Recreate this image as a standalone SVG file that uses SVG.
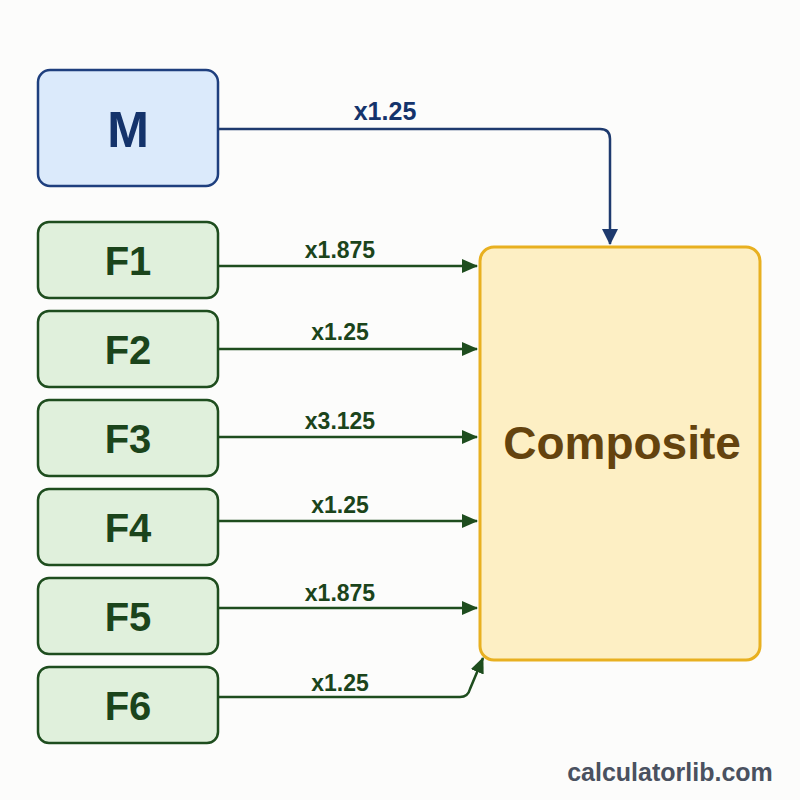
<svg xmlns="http://www.w3.org/2000/svg" width="800" height="800" viewBox="0 0 800 800">
<defs>
<style>
.f{fill:#e0f0dc;stroke:#1e4d1e;stroke-width:2.5}
.ft{font-family:"Liberation Sans",Arial,sans-serif;font-weight:bold;font-size:40px;fill:#1b441b;text-anchor:middle}
.lbl{font-family:"Liberation Sans",Arial,sans-serif;font-weight:bold;font-size:23px;fill:#1b441b;text-anchor:middle}
.g{stroke:#1e4d1e;stroke-width:2.5;fill:none}
</style>
<marker id="agl" markerWidth="16" markerHeight="14" refX="15" refY="7" orient="auto" markerUnits="userSpaceOnUse"><path d="M0,0L16,7L0,14z" fill="#1e4d1e"/></marker>
<marker id="ab" markerWidth="16" markerHeight="16" refX="15" refY="8" orient="auto" markerUnits="userSpaceOnUse"><path d="M0,0L16,8L0,16z" fill="#1e3a6e"/></marker>
</defs>
<rect width="800" height="800" fill="#fcfcfb"/>
<g id="M">
<rect x="38" y="70" width="180" height="116" rx="12" fill="#dbeafb" stroke="#1e3f7e" stroke-width="2.5"/>
<text x="128" y="147" font-family="Liberation Sans,Arial,sans-serif" font-weight="bold" font-size="50" fill="#14336b" text-anchor="middle">M</text>
</g>
<g id="F1"><rect class="f" x="38" y="222" width="180" height="76" rx="11"/><text class="ft" x="128" y="275">F1</text></g>
<g id="F2"><rect class="f" x="38" y="311" width="180" height="76" rx="11"/><text class="ft" x="128" y="364">F2</text></g>
<g id="F3"><rect class="f" x="38" y="400" width="180" height="76" rx="11"/><text class="ft" x="128" y="453">F3</text></g>
<g id="F4"><rect class="f" x="38" y="489" width="180" height="76" rx="11"/><text class="ft" x="128" y="542">F4</text></g>
<g id="F5"><rect class="f" x="38" y="578" width="180" height="76" rx="11"/><text class="ft" x="128" y="631">F5</text></g>
<g id="F6"><rect class="f" x="38" y="667" width="180" height="76" rx="11"/><text class="ft" x="128" y="720">F6</text></g>
<g id="Composite">
<rect x="480" y="247" width="280" height="413" rx="14" fill="#fdefc4" stroke="#e8b020" stroke-width="3"/>
<text x="622" y="459" font-family="Liberation Sans,Arial,sans-serif" font-weight="bold" font-size="46" fill="#64430e" text-anchor="middle">Composite</text>
</g>
<g id="connectors">
<path d="M218,129 H600 Q610,129 610,139 V244" fill="none" stroke="#1e3a6e" stroke-width="2.5" marker-end="url(#ab)"/>
<path class="g" d="M218,266 H477" marker-end="url(#agl)"/>
<path class="g" d="M218,349 H477" marker-end="url(#agl)"/>
<path class="g" d="M218,437 H477" marker-end="url(#agl)"/>
<path class="g" d="M218,521 H477" marker-end="url(#agl)"/>
<path class="g" d="M218,608 H477" marker-end="url(#agl)"/>
<path class="g" d="M218,697 H460 Q468,697 470,689 L483,658" marker-end="url(#agl)"/>
</g>
<g id="labels">
<text x="385" y="120" font-family="Liberation Sans,Arial,sans-serif" font-weight="bold" font-size="25" fill="#14336b" text-anchor="middle">x1.25</text>
<text class="lbl" x="340" y="258">x1.875</text>
<text class="lbl" x="340" y="340">x1.25</text>
<text class="lbl" x="340" y="429">x3.125</text>
<text class="lbl" x="340" y="513">x1.25</text>
<text class="lbl" x="340" y="601">x1.875</text>
<text class="lbl" x="340" y="691">x1.25</text>
</g>
<text x="670" y="781" font-family="Liberation Sans,Arial,sans-serif" font-weight="bold" font-size="25" fill="#4a5160" text-anchor="middle">calculatorlib.com</text>
</svg>
